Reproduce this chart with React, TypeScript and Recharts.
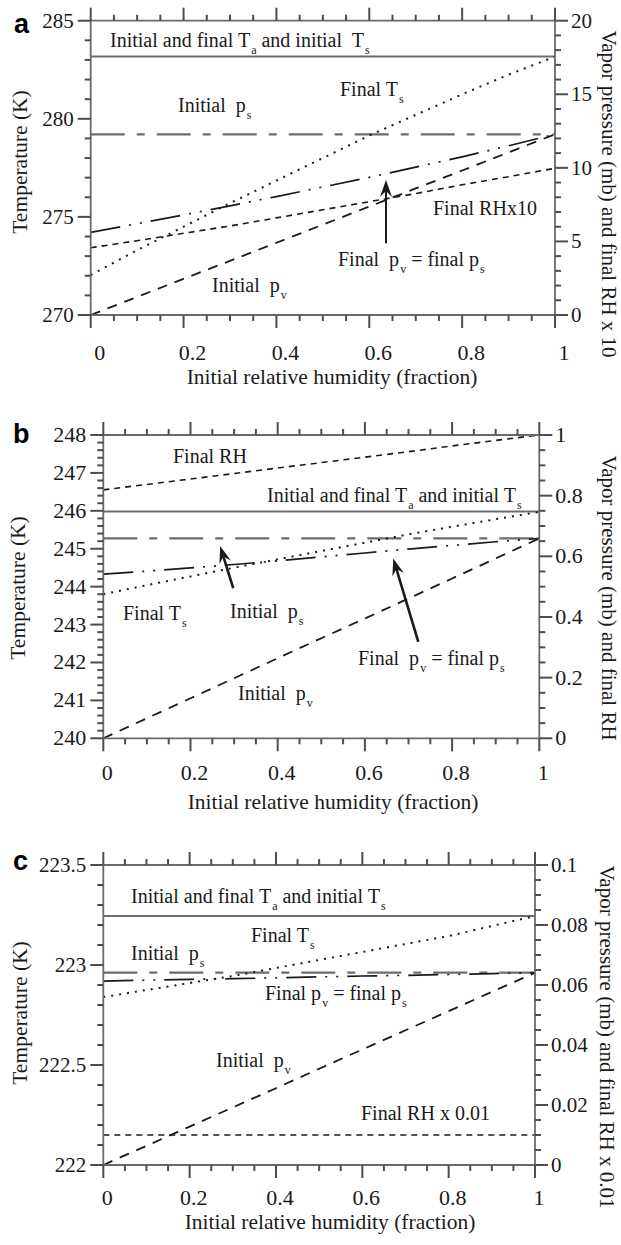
import React from 'react';
import { LineChart, Line, XAxis, YAxis, ReferenceLine } from 'recharts';

// ---------------- data ----------------
const rhFraction = [0, 0.1, 0.2, 0.3, 0.4, 0.5, 0.6, 0.7, 0.8, 0.9, 1];

// panel a (left axis K, right axis mb)
const aTaInitialFinal = [283.17, 283.17, 283.17, 283.17, 283.17, 283.17, 283.17, 283.17, 283.17, 283.17, 283.17];
const aPsInitial = [12.28, 12.28, 12.28, 12.28, 12.28, 12.28, 12.28, 12.28, 12.28, 12.28, 12.28];
const aTsFinal = [272.04, 273.3, 274.5, 275.7, 276.85, 278.0, 279.15, 280.2, 281.25, 282.25, 283.17];
const aPvFinal = [5.62, 6.2, 6.8, 7.42, 8.05, 8.7, 9.35, 10.05, 10.75, 11.5, 12.28];
const aRhFinalX10 = [4.57, 5.05, 5.55, 6.05, 6.6, 7.15, 7.7, 8.25, 8.85, 9.4, 9.97];
const aPvInitial = [0, 1.23, 2.46, 3.68, 4.91, 6.14, 7.37, 8.6, 9.82, 11.05, 12.28];
const aArrowX = [0.636, 0.636];
const aArrowY = [4.87, 9.17];

// panel b
const bTaInitialFinal = [245.98, 245.98, 245.98, 245.98, 245.98, 245.98, 245.98, 245.98, 245.98, 245.98, 245.98];
const bPsInitial = [0.659, 0.659, 0.659, 0.659, 0.659, 0.659, 0.659, 0.659, 0.659, 0.659, 0.659];
const bTsFinal = [243.8, 244.04, 244.27, 244.5, 244.72, 244.94, 245.16, 245.38, 245.58, 245.78, 245.97];
const bPvFinal = [0.541, 0.551, 0.562, 0.573, 0.585, 0.598, 0.611, 0.624, 0.636, 0.648, 0.659];
const bRhFinal = [0.819, 0.837, 0.855, 0.873, 0.891, 0.909, 0.927, 0.945, 0.964, 0.982, 1.0];
const bPvInitial = [0, 0.066, 0.132, 0.198, 0.264, 0.33, 0.395, 0.461, 0.527, 0.593, 0.659];
const bArrow1X = [0.298, 0.268];
const bArrow1Y = [0.495, 0.634];
const bArrow2X = [0.7225, 0.665];
const bArrow2Y = [0.318, 0.593];

// panel c
const cTaInitialFinal = [223.245, 223.245, 223.245, 223.245, 223.245, 223.245, 223.245, 223.245, 223.245, 223.245, 223.245];
const cPsInitial = [0.0641, 0.0641, 0.0641, 0.0641, 0.0641, 0.0641, 0.0641, 0.0641, 0.0641, 0.0641, 0.0641];
const cTsFinal = [222.84, 222.875, 222.91, 222.945, 222.985, 223.025, 223.065, 223.105, 223.145, 223.195, 223.245];
const cPvFinal = [0.0613, 0.0616, 0.0619, 0.0621, 0.0624, 0.0627, 0.063, 0.0632, 0.0635, 0.0638, 0.0641];
const cRhFinalX001 = [0.01, 0.01, 0.01, 0.01, 0.01, 0.01, 0.01, 0.01, 0.01, 0.01, 0.01];
const cPvInitial = [0, 0.0064, 0.0128, 0.0192, 0.0256, 0.0321, 0.0385, 0.0449, 0.0513, 0.0577, 0.0641];

// ticks
const xMajorTicks = [0, 0.2, 0.4, 0.6, 0.8, 1];
const xTickLabels = ['0', '0.2', '0.4', '0.6', '0.8', '1'];
const xMinorStep = 0.05;

const aLeftMajor = [270, 275, 280, 285];
const aLeftLabels = ['270', '275', '280', '285'];
const aLeftMinorStep = 1;
const aRightMajor = [0, 5, 10, 15, 20];
const aRightLabels = ['0', '5', '10', '15', '20'];
const aRightMinorStep = 1;

const bLeftMajor = [240, 241, 242, 243, 244, 245, 246, 247, 248];
const bLeftLabels = ['240', '241', '242', '243', '244', '245', '246', '247', '248'];
const bLeftMinorStep = 0.2;
const bRightMajor = [0, 0.2, 0.4, 0.6, 0.8, 1];
const bRightLabels = ['0', '0.2', '0.4', '0.6', '0.8', '1'];
const bRightMinorStep = 0.05;

const cLeftMajor = [222, 222.5, 223, 223.5];
const cLeftLabels = ['222', '222.5', '223', '223.5'];
const cLeftMinorStep = 0.1;
const cRightMajor = [0, 0.02, 0.04, 0.06, 0.08, 0.1];
const cRightLabels = ['0', '0.02', '0.04', '0.06', '0.08', '0.1'];
const cRightMinorStep = 0.005;

// ---------------- styling ----------------
const FONT = '"Liberation Serif", "Times New Roman", Times, serif';
const SANS = '"Liberation Sans", Arial, sans-serif';
const AXIS = '#6a6a6a';
const TICK = '#4e4e4e';
const INK = '#1a1a1a';
const GRAY = '#6c6c6c';
const MAJOR_LEN = 13;
const MINOR_LEN = 6;

const tickRange = (lo: number, hi: number, step: number) => {
  const n = Math.round((hi - lo) / step);
  const out: number[] = [];
  for (let i = 0; i <= n; i++) out.push(Math.round((lo + i * step) * 1e9) / 1e9);
  return out;
};

type Side = 'bottom' | 'top' | 'left' | 'right';
type TickOpts = { side: Side; majors: number[]; labels?: string[]; fontSize?: number; dx?: number; dy?: number };

const makeTick = (o: TickOpts) => (props: any) => {
  const x = Number(props.x);
  const y = Number(props.y);
  const v = Number(props.payload && props.payload.value);
  const idx = o.majors.findIndex((m) => Math.abs(m - v) < 1e-7);
  const major = idx >= 0;
  const len = major ? MAJOR_LEN : MINOR_LEN;
  let x2 = x;
  let y2 = y;
  if (o.side === 'bottom') y2 = y + len;
  else if (o.side === 'top') y2 = y - len;
  else if (o.side === 'left') x2 = x - len;
  else x2 = x + len;
  const fs = o.fontSize || 21;
  let label: any = null;
  if (major && o.labels) {
    if (o.side === 'bottom') {
      label = (
        <text x={x + (o.dx || 0)} y={y + (o.dy || 0)} textAnchor="middle" fontFamily={FONT} fontSize={fs} fill={INK}>
          {o.labels[idx]}
        </text>
      );
    } else if (o.side === 'left') {
      label = (
        <text x={x - 17} y={y + 7} textAnchor="end" fontFamily={FONT} fontSize={fs} fill={INK}>
          {o.labels[idx]}
        </text>
      );
    } else if (o.side === 'right') {
      label = (
        <text x={x + 16} y={y + 7} textAnchor="start" fontFamily={FONT} fontSize={fs} fill={INK}>
          {o.labels[idx]}
        </text>
      );
    }
  }
  return (
    <g>
      <path d={`M${x},${y}L${x2},${y2}`} stroke={TICK} strokeWidth={2} fill="none" />
      {label}
    </g>
  );
};

const arrowShape = (w: number) => (props: any) => {
  const { x1, y1, x2, y2 } = props;
  if ([x1, y1, x2, y2].some((v) => v == null || isNaN(v))) return <g />;
  const dx = x2 - x1;
  const dy = y2 - y1;
  const L = Math.hypot(dx, dy) || 1;
  const ux = dx / L;
  const uy = dy / L;
  const px = -uy;
  const py = ux;
  const head = 17;
  const half = 6;
  const notch = 11;
  const bx = x2 - ux * head;
  const by = y2 - uy * head;
  const nx = x2 - ux * notch;
  const ny = y2 - uy * notch;
  const pts = `${x2},${y2} ${bx + px * half},${by + py * half} ${nx},${ny} ${bx - px * half},${by - py * half}`;
  return (
    <g>
      <path d={`M${x1},${y1}L${nx},${ny}`} stroke={INK} strokeWidth={w} fill="none" />
      <polygon points={pts} fill={INK} />
    </g>
  );
};

type LineSpec = { key: string; axis: 'left' | 'right'; stroke: string; width: number; dash?: string };

const lineSpecs: LineSpec[] = [
  { key: 'ta', axis: 'left', stroke: GRAY, width: 2 },
  { key: 'ps', axis: 'right', stroke: GRAY, width: 2.2, dash: '34 12 8 12' },
  { key: 'pvInit', axis: 'right', stroke: INK, width: 1.8, dash: '10 8' },
  { key: 'rh', axis: 'right', stroke: INK, width: 1.6, dash: '6 5' },
  { key: 'ts', axis: 'left', stroke: INK, width: 2, dash: '2 6' },
  { key: 'pvFinal', axis: 'right', stroke: INK, width: 1.7, dash: '30 9 2 9 2 9' },
];

type ArrowSpec = { xs: number[]; ys: number[]; w: number };

type PanelProps = {
  top: number;
  height: number;
  margin: { top: number; right: number; bottom: number; left: number };
  rows: any[];
  leftDomain: [number, number];
  leftMajor: number[];
  leftLabels: string[];
  leftStep: number;
  rightDomain: [number, number];
  rightMajor: number[];
  rightLabels: string[];
  rightStep: number;
  yFont: number;
  xFont: number;
  xDx: number;
  xDy: number;
  arrows: ArrowSpec[];
};

const axisLine = { stroke: AXIS, strokeWidth: 1.8 };

function Panel(p: PanelProps) {
  const xTicks = tickRange(0, 1, xMinorStep);
  const lTicks = tickRange(p.leftDomain[0], p.leftDomain[1], p.leftStep);
  const rTicks = tickRange(p.rightDomain[0], p.rightDomain[1], p.rightStep);
  return (
    <div style={{ position: 'absolute', left: 0, top: p.top, width: 621, height: p.height }}>
      <LineChart width={621} height={p.height} data={p.rows} margin={p.margin}>
        <XAxis
          xAxisId="bottom"
          dataKey="x"
          type="number"
          domain={[0, 1]}
          ticks={xTicks}
          interval={0}
          allowDataOverflow
          tickLine={false}
          tickSize={0}
          tickMargin={0}
          height={30}
          axisLine={axisLine}
          tick={makeTick({ side: 'bottom', majors: xMajorTicks, labels: xTickLabels, fontSize: p.xFont, dx: p.xDx, dy: p.xDy })}
        />
        <XAxis
          xAxisId="top"
          orientation="top"
          dataKey="x"
          type="number"
          domain={[0, 1]}
          ticks={xTicks}
          interval={0}
          allowDataOverflow
          tickLine={false}
          tickSize={0}
          tickMargin={0}
          height={1}
          axisLine={axisLine}
          tick={makeTick({ side: 'top', majors: xMajorTicks })}
        />
        <YAxis
          yAxisId="left"
          orientation="left"
          type="number"
          domain={p.leftDomain}
          ticks={lTicks}
          interval={0}
          allowDataOverflow
          tickLine={false}
          tickSize={0}
          tickMargin={0}
          width={60}
          axisLine={axisLine}
          tick={makeTick({ side: 'left', majors: p.leftMajor, labels: p.leftLabels, fontSize: p.yFont })}
        />
        <YAxis
          yAxisId="right"
          orientation="right"
          type="number"
          domain={p.rightDomain}
          ticks={rTicks}
          interval={0}
          allowDataOverflow
          tickLine={false}
          tickSize={0}
          tickMargin={0}
          width={40}
          axisLine={axisLine}
          tick={makeTick({ side: 'right', majors: p.rightMajor, labels: p.rightLabels, fontSize: p.yFont })}
        />
        {lineSpecs.map((l) => (
          <Line
            key={l.key}
            xAxisId="bottom"
            yAxisId={l.axis}
            dataKey={l.key}
            type="linear"
            stroke={l.stroke}
            strokeWidth={l.width}
            strokeDasharray={l.dash}
            dot={false}
            activeDot={false}
            isAnimationActive={false}
          />
        ))}
        {p.arrows.map((a, i) => (
          <ReferenceLine
            key={'arrow' + i}
            xAxisId="bottom"
            yAxisId="right"
            segment={[
              { x: a.xs[0], y: a.ys[0] },
              { x: a.xs[1], y: a.ys[1] },
            ]}
            ifOverflow="visible"
            shape={arrowShape(a.w)}
          />
        ))}
      </LineChart>
    </div>
  );
}

const buildRows = (ta: number[], ps: number[], ts: number[], pvFinal: number[], rh: number[], pvInit: number[]) =>
  rhFraction.map((x, i) => ({ x, ta: ta[i], ps: ps[i], ts: ts[i], pvFinal: pvFinal[i], rh: rh[i], pvInit: pvInit[i] }));

type Part = [string, boolean?];
function Ann({ x, y, parts, size = 20 }: { x: number; y: number; parts: Part[]; size?: number }) {
  let shifted = false;
  const out: any[] = [];
  parts.forEach(([t, sub], i) => {
    if (sub) {
      out.push(
        <tspan key={i} fontSize={size * 0.6} dy={shifted ? 0 : 7} dx={1}>
          {t}
        </tspan>
      );
      shifted = true;
    } else {
      out.push(
        <tspan key={i} dy={shifted ? -7 : 0}>
          {t}
        </tspan>
      );
      shifted = false;
    }
  });
  return (
    <text x={x} y={y} fontFamily={FONT} fontSize={size} fill={INK}>
      {out}
    </text>
  );
}

function Title({ x, y, text, rot = 0, size = 21.5 }: { x: number; y: number; text: string; rot?: number; size?: number }) {
  return (
    <text
      x={x}
      y={y}
      textAnchor="middle"
      dominantBaseline="central"
      fontFamily={FONT}
      fontSize={size}
      fill={INK}
      transform={rot ? `rotate(${rot} ${x} ${y})` : undefined}
    >
      {text}
    </text>
  );
}

const NB = '\u00A0';

export default function App() {
  const rowsA = buildRows(aTaInitialFinal, aPsInitial, aTsFinal, aPvFinal, aRhFinalX10, aPvInitial);
  const rowsB = buildRows(bTaInitialFinal, bPsInitial, bTsFinal, bPvFinal, bRhFinal, bPvInitial);
  const rowsC = buildRows(cTaInitialFinal, cPsInitial, cTsFinal, cPvFinal, cRhFinalX001, cPvInitial);

  return (
    <div style={{ position: 'absolute', left: 0, top: 0, width: 621, height: 1245, background: '#fff', overflow: 'hidden' }}>
      <Panel
        top={0}
        height={415}
        margin={{ top: 19.7, left: 30.7, right: 26, bottom: 70 }}
        rows={rowsA}
        leftDomain={[270, 285]}
        leftMajor={aLeftMajor}
        leftLabels={aLeftLabels}
        leftStep={aLeftMinorStep}
        rightDomain={[0, 20]}
        rightMajor={aRightMajor}
        rightLabels={aRightLabels}
        rightStep={aRightMinorStep}
        yFont={21}
        xFont={22}
        xDx={9}
        xDy={45}
        arrows={[{ xs: aArrowX, ys: aArrowY, w: 2 }]}
      />
      <Panel
        top={420}
        height={415}
        margin={{ top: 14, left: 43.3, right: 41.7, bottom: 66.7 }}
        rows={rowsB}
        leftDomain={[240, 248]}
        leftMajor={bLeftMajor}
        leftLabels={bLeftLabels}
        leftStep={bLeftMinorStep}
        rightDomain={[0, 1]}
        rightMajor={bRightMajor}
        rightLabels={bRightLabels}
        rightStep={bRightMinorStep}
        yFont={22}
        xFont={22}
        xDx={4}
        xDy={42}
        arrows={[
          { xs: bArrow1X, ys: bArrow1Y, w: 2.6 },
          { xs: bArrow2X, ys: bArrow2Y, w: 2.6 },
        ]}
      />
      <Panel
        top={840}
        height={405}
        margin={{ top: 24, left: 43.3, right: 46, bottom: 50 }}
        rows={rowsC}
        leftDomain={[222, 223.5]}
        leftMajor={cLeftMajor}
        leftLabels={cLeftLabels}
        leftStep={cLeftMinorStep}
        rightDomain={[0, 0.1]}
        rightMajor={cRightMajor}
        rightLabels={cRightLabels}
        rightStep={cRightMinorStep}
        yFont={21}
        xFont={22}
        xDx={4}
        xDy={40}
        arrows={[]}
      />
      <svg width={621} height={1245} style={{ position: 'absolute', left: 0, top: 0, pointerEvents: 'none' }}>
        <text x={14} y={33} fontFamily={SANS} fontWeight="bold" fontSize={27} fill="#000">a</text>
        <text x={13} y={443} fontFamily={SANS} fontWeight="bold" fontSize={27} fill="#000">b</text>
        <text x={13} y={870} fontFamily={SANS} fontWeight="bold" fontSize={27} fill="#000">c</text>

        <Ann x={110} y={47} parts={[['Initial and final T'], ['a', true], [' and initial' + NB + ' T'], ['s', true]]} />
        <Ann x={178} y={112} parts={[['Initial' + NB + ' p'], ['s', true]]} />
        <Ann x={340} y={96} parts={[['Final T'], ['s', true]]} />
        <Ann x={433} y={215} parts={[['Final RHx10']]} />
        <Ann x={338} y={266} parts={[['Final' + NB + ' p'], ['v', true], [' = final p'], ['s', true]]} />
        <Ann x={212} y={292} parts={[['Initial' + NB + ' p'], ['v', true]]} />
        <Title x={20} y={162} text="Temperature (K)" rot={-90} />
        <Title x={609} y={194} text="Vapor pressure (mb) and final RH x 10" rot={90} size={21} />
        <Title x={332} y={377} text="Initial relative humidity (fraction)" />

        <Ann x={173} y={463} parts={[['Final RH']]} />
        <Ann x={267} y={502} parts={[['Initial and final T'], ['a', true], [' and initial T'], ['s', true]]} />
        <Ann x={123} y={620} parts={[['Final T'], ['s', true]]} />
        <Ann x={230} y={618} parts={[['Initial' + NB + ' p'], ['s', true]]} />
        <Ann x={358} y={665} parts={[['Final' + NB + ' p'], ['v', true], [' = final p'], ['s', true]]} />
        <Ann x={238} y={700} parts={[['Initial' + NB + ' p'], ['v', true]]} />
        <Title x={18} y={588} text="Temperature (K)" rot={-90} />
        <Title x={609} y={598} text="Vapor pressure (mb) and final RH" rot={90} size={21} />
        <Title x={333} y={802} text="Initial relative humidity (fraction)" />

        <Ann x={131} y={903} parts={[['Initial and final T'], ['a', true], [' and initial T'], ['s', true]]} />
        <Ann x={251} y={942} parts={[['Final T'], ['s', true]]} />
        <Ann x={131} y={960} parts={[['Initial' + NB + ' p'], ['s', true]]} />
        <Ann x={265} y={1000} parts={[['Final p'], ['v', true], [' = final p'], ['s', true]]} />
        <Ann x={216} y={1067} parts={[['Initial' + NB + ' p'], ['v', true]]} />
        <Ann x={361} y={1120} parts={[['Final RH x 0.01']]} />
        <Title x={20} y={1013} text="Temperature (K)" rot={-90} />
        <Title x={607} y={1037} text="Vapor pressure (mb) and final RH x 0.01" rot={90} size={21} />
        <Title x={330} y={1222} text="Initial relative humidity (fraction)" />
      </svg>
    </div>
  );
}
